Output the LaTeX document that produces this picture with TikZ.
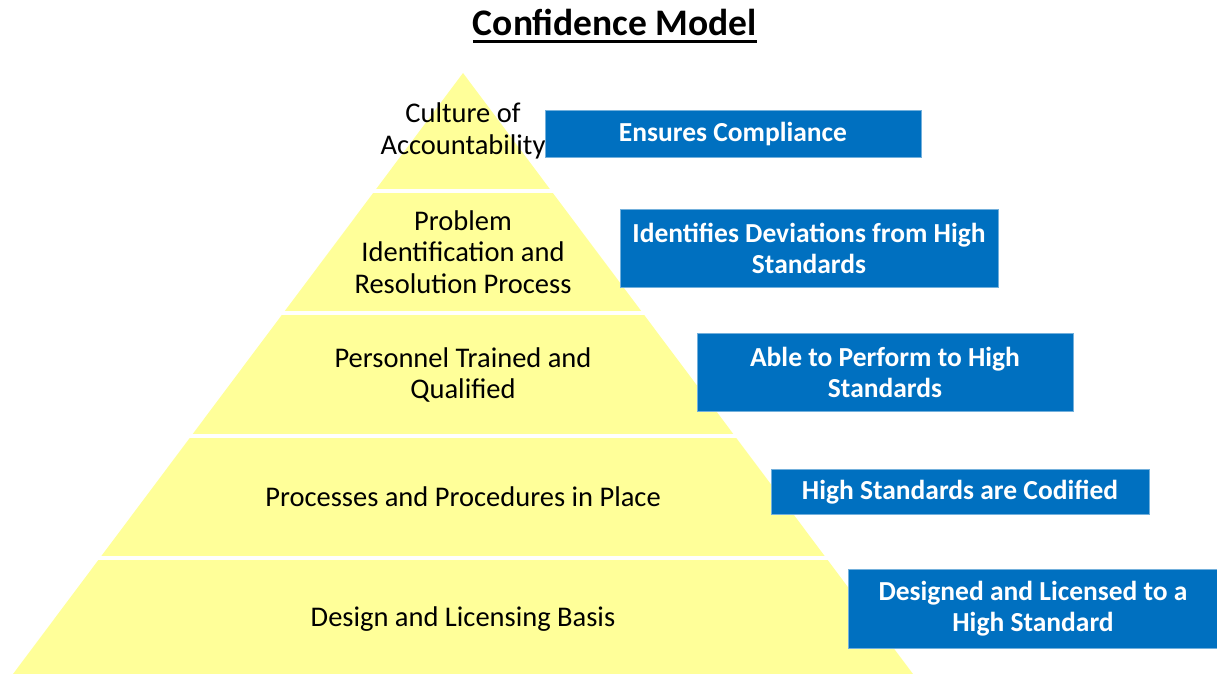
\documentclass[tikz,border=0pt]{standalone}
\usepackage{fontspec}
\setmainfont{Carlito}
\usepackage{xcolor}
\usepackage{tikz}

\definecolor{pyryellow}{HTML}{FFFF99}
\definecolor{boxblue}{HTML}{0070C0}

\begin{document}
\begin{tikzpicture}[x=1pt, y=-1pt,
        level/.style={align=center, inner sep=0pt, font=\fontsize{28.5}{31.5}\selectfont},
        claim/.style={draw=boxblue!55!white, line width=1, fill=boxblue, text=white, align=center, inner sep=0pt, font=\fontsize{27.5}{31}\selectfont\bfseries}]
        \useasboundingbox (0,0) rectangle (1217,674);

        % pyramid and its layer gaps
        \fill[pyryellow] (463,73) -- (913,674) -- (13,674) -- cycle;
        \foreach \y in {191,313,436,558}
            \draw[white, line width=4] (0,\y) -- (930,\y);

        \node[inner sep=0pt, anchor=base, font=\fontsize{37.5}{40}\selectfont\bfseries] (Title) at (615,36) {Confidence Model};
        \draw[line width=3] ([yshift=-6pt]Title.base west) -- ([yshift=-6pt]Title.base east);

        \node[level] (Culture) at (463,131) {Culture of\\Accountability};
        \node[level] (Problem) at (463,252) {Problem\\Identification and\\Resolution Process};
        \node[level] (Personnel) at (463,375) {Personnel Trained and\\Qualified};
        \node[level] (Processes) at (463,497) {Processes and Procedures in Place};
        \node[level] (Design) at (463,619) {Design and Licensing Basis};

        \node[claim, minimum width=376, minimum height=46] (Compliance) at (733,134) {Ensures Compliance};
        \node[claim, minimum width=378, minimum height=78] (Deviations) at (809,248) {Identifies Deviations from High\\Standards};
        \node[claim, minimum width=376, minimum height=78] (Perform) at (885,372) {Able to Perform to High\\Standards};
        \node[claim, minimum width=378, minimum height=45] (Codified) at (960,492) {High Standards are Codified};
        \node[claim, minimum width=370, minimum height=79] (Licensed) at (1033,609) {Designed and Licensed to a\\High Standard};
    \end{tikzpicture}
\end{document}
